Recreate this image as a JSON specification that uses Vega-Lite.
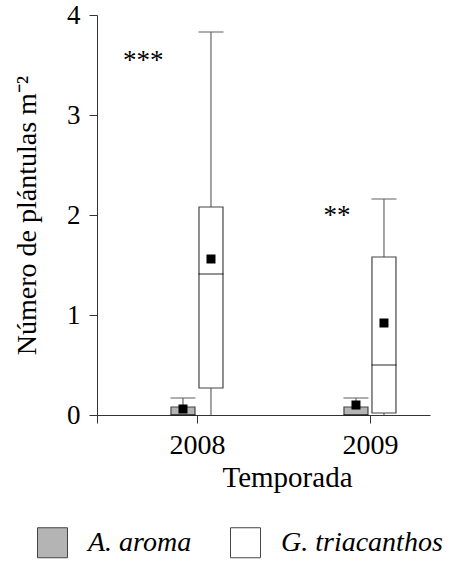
{
  "$schema": "https://vega.github.io/schema/vega-lite/v6.json",
  "width": 333,
  "height": 400,
  "autosize": "none",
  "padding": {"left": 97, "top": 15, "right": 27, "bottom": 147},
  "background": "white",
  "config": {
    "view": {"stroke": null},
    "font": "Liberation Serif",
    "axis": {
      "grid": false,
      "domainColor": "#333",
      "tickColor": "#333",
      "labelColor": "black",
      "titleColor": "black",
      "labelFont": "Liberation Serif",
      "titleFont": "Liberation Serif",
      "labelFontSize": 28,
      "titleFontSize": 29,
      "titleFontWeight": "normal",
      "tickSize": 8
    }
  },
  "datasets": {
    "boxes": [
      {"year": 2008, "species": "A. aroma", "lo": 0, "q1": 0, "median": 0, "q3": 0.08, "hi": 0.17, "mean": 0.06},
      {"year": 2008, "species": "G. triacanthos", "lo": 0, "q1": 0.27, "median": 1.41, "q3": 2.08, "hi": 3.83, "mean": 1.56},
      {"year": 2009, "species": "A. aroma", "lo": 0, "q1": 0, "median": 0, "q3": 0.08, "hi": 0.17, "mean": 0.10},
      {"year": 2009, "species": "G. triacanthos", "lo": 0, "q1": 0.02, "median": 0.5, "q3": 1.58, "hi": 2.16, "mean": 0.92}
    ],
    "notes": [
      {"x": 2007.69, "y": 3.46, "label": "***"},
      {"x": 2008.81, "y": 1.91, "label": "**"}
    ]
  },
  "encoding": {
    "x": {
      "field": "year",
      "type": "quantitative",
      "scale": {"domain": [2007.422, 2009.347], "nice": false, "zero": false, "padding": 0},
      "axis": {
        "values": [2007.422, 2008, 2009],
        "labelExpr": "datum.value < 2007.5 ? '' : format(datum.value, 'd')",
        "title": "Temporada",
        "labelPadding": 8,
        "titlePadding": 4,
        "titleX": 190
      }
    }
  },
  "layer": [
    {
      "data": {"name": "boxes"},
      "mark": {"type": "rule", "color": "#666", "strokeWidth": 1.2, "xOffset": {"expr": "datum.species == 'A. aroma' ? -14 : 14"}},
      "encoding": {
        "y": {
          "field": "lo",
          "type": "quantitative",
          "scale": {"domain": [0, 4], "nice": false, "padding": 0},
          "axis": {"values": [0, 1, 2, 3, 4], "format": "d", "title": "Número de plántulas m⁻²", "labelFontSize": 27, "titleFontSize": 28, "labelPadding": 9, "titlePadding": 25}
        },
        "y2": {"field": "hi"}
      }
    },
    {
      "data": {"name": "boxes"},
      "mark": {"type": "tick", "orient": "horizontal", "color": "#666", "size": 25, "thickness": 1.5, "xOffset": {"expr": "datum.species == 'A. aroma' ? -14 : 14"}},
      "encoding": {"y": {"field": "hi", "type": "quantitative"}}
    },
    {
      "data": {"name": "boxes"},
      "mark": {"type": "bar", "size": 24, "stroke": "#444", "strokeWidth": 1.2, "xOffset": {"expr": "datum.species == 'A. aroma' ? -14 : 14"}},
      "encoding": {
        "y": {"field": "q1", "type": "quantitative"},
        "y2": {"field": "q3"},
        "fill": {
          "field": "species",
          "type": "nominal",
          "scale": {"domain": ["A. aroma", "G. triacanthos"], "range": ["#b4b4b4", "#ffffff"]},
          "legend": {
            "title": null,
            "orient": "none",
            "legendX": -60,
            "legendY": 512,
            "direction": "horizontal",
            "symbolType": "square",
            "symbolSize": 900,
            "symbolStrokeColor": "#444",
            "symbolStrokeWidth": 1,
            "symbolOpacity": 1,
            "labelFont": "Liberation Serif",
            "labelFontStyle": "italic",
            "labelFontSize": 28,
            "labelColor": "black",
            "labelOffset": 20,
            "labelLimit": 300,
            "columnPadding": 36
          }
        }
      }
    },
    {
      "data": {"name": "boxes"},
      "mark": {"type": "tick", "orient": "horizontal", "color": "black", "size": 25, "thickness": 1.2, "xOffset": {"expr": "datum.species == 'A. aroma' ? -14 : 14"}},
      "encoding": {"y": {"field": "median", "type": "quantitative"}}
    },
    {
      "data": {"name": "boxes"},
      "mark": {"type": "point", "shape": "square", "filled": true, "color": "black", "opacity": 1, "size": 81, "xOffset": {"expr": "datum.species == 'A. aroma' ? -14 : 14"}},
      "encoding": {"y": {"field": "mean", "type": "quantitative"}}
    },
    {
      "data": {"name": "notes"},
      "mark": {"type": "text", "font": "Liberation Serif", "fontSize": 27, "color": "black", "baseline": "alphabetic", "align": "center"},
      "encoding": {
        "x": {"field": "x", "type": "quantitative"},
        "y": {"field": "y", "type": "quantitative"},
        "text": {"field": "label"}
      }
    }
  ]
}
